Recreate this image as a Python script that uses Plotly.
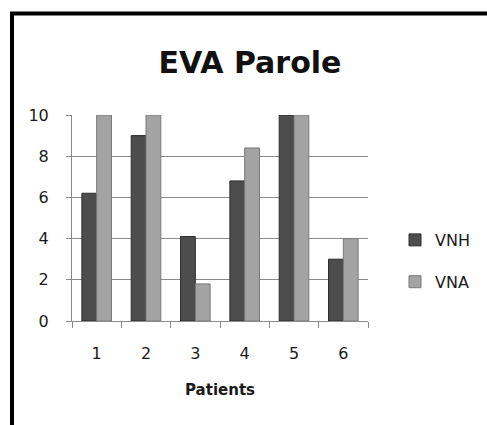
import plotly.graph_objects as go

patients = ["1", "2", "3", "4", "5", "6"]
vnh = [6.2, 9.0, 4.1, 6.8, 10.0, 3.0]
vna = [10.0, 10.0, 1.8, 8.4, 10.0, 4.0]
y_ticks = [0, 2, 4, 6, 8, 10]
grid_ticks = [2, 4, 6, 8]

FONT = "DejaVu Sans"

fig = go.Figure()
fig.add_trace(go.Bar(x=patients, y=vnh, name="VNH", legendgroup="a",
                     marker=dict(color="#4d4d4d", line=dict(color="#2e2e2e", width=1))))
fig.add_trace(go.Bar(x=patients, y=vna, name="VNA", legendgroup="b",
                     marker=dict(color="#a3a3a3", line=dict(color="#7a7a7a", width=1))))

fig.update_layout(
    width=487, height=425,
    margin=dict(l=72, r=119, t=115, b=104),
    paper_bgcolor="white", plot_bgcolor="white",
    barmode="group", bargap=0.4, bargroupgap=0,
    font=dict(family=FONT, color="#1a1a1a", size=16),
    title=dict(text="<b>EVA Parole</b>", x=(250 - 72) / 296, xref="paper", xanchor="center",
               y=1 - 62 / 425, yanchor="middle", font=dict(size=30, family=FONT, color="#111")),
    xaxis=dict(showline=True, linecolor="#8a8a8a", linewidth=1, ticks="outside",
               tickson="boundaries", ticklen=6, tickcolor="#8a8a8a",
               tickfont=dict(size=16), showgrid=False, ticklabelstandoff=18,
               title=dict(text="<b>Patients</b>", font=dict(size=15), standoff=22)),
    yaxis=dict(range=[0, 10], tickvals=y_ticks, showline=True, linecolor="#8a8a8a",
               linewidth=1, ticks="outside", ticklen=5, tickcolor="#8a8a8a",
               showgrid=False, zeroline=False, tickfont=dict(size=16),
               ticklabelstandoff=14),
    yaxis2=dict(range=[0, 10], overlaying="y", tickvals=grid_ticks, showgrid=True,
                gridcolor="#8a8a8a", gridwidth=1, showticklabels=False, zeroline=False,
                showline=False),
    legend=dict(x=1 + (395 - 368) / 296, xanchor="left", y=(321 - 261) / 206, yanchor="middle",
                font=dict(size=16), tracegroupgap=18, bgcolor="rgba(0,0,0,0)"),
    showlegend=True,
)
# invisible helper trace to activate the grid-only overlay axis
fig.add_trace(go.Scatter(x=[patients[0]], y=[0], yaxis="y2", showlegend=False,
                         mode="markers", marker=dict(opacity=0), hoverinfo="skip"))

# outer chart frame (left and top edges visible)
fig.add_shape(type="rect", xref="paper", yref="paper",
              x0=(12 - 72) / 296, x1=(520 - 72) / 296,
              y0=-(460 - 321) / 206, y1=1 + (115 - 13.5) / 206,
              line=dict(color="black", width=4), fillcolor="rgba(0,0,0,0)", layer="above")

fig.write_html("out.html", config={"displayModeBar": False},
               post_script="document.body.style.margin='0';document.body.style.overflow='hidden';")
